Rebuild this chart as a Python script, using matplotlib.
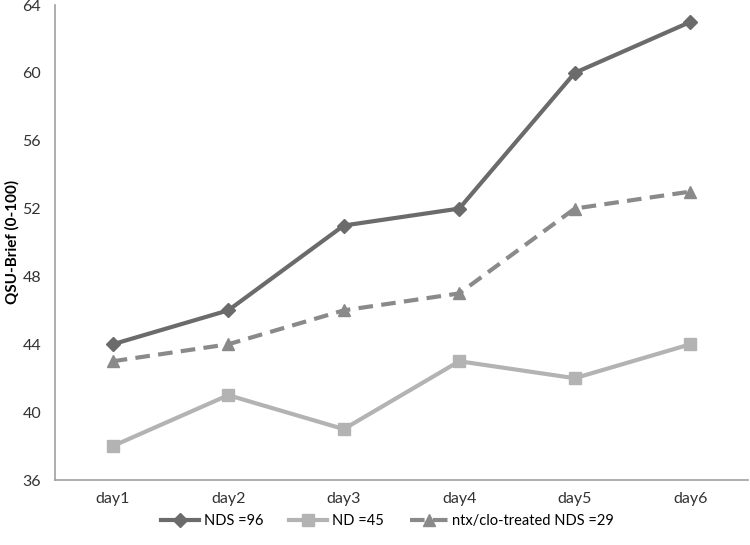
import matplotlib
matplotlib.use("Agg")
import matplotlib.pyplot as plt

days = ["day1", "day2", "day3", "day4", "day5", "day6"]
nds = [44, 46, 51, 52, 60, 63]
nd = [38, 41, 39, 43, 42, 44]
ntx = [43, 44, 46, 47, 52, 53]
yticks = [36, 40, 44, 48, 52, 56, 60, 64]

plt.rcParams['font.family'] = ['Lato', 'DejaVu Sans']

fig = plt.figure(figsize=(7.5, 5.45), dpi=100)
ax = fig.add_axes([55/750, 1 - 480/545, (748-55)/750, 475/545])

x = list(range(len(days)))
ax.plot(x, nds, c='#6b6b6b', lw=3, marker='D', ms=7, label='NDS =96')
ax.plot(x, nd, c='#b3b3b3', lw=3, marker='s', ms=8, label='ND =45')
ax.plot(x, ntx, c='#8a8a8a', lw=3, ls=(0, (3.5, 2)), marker='^', ms=9,
        label='ntx/clo-treated NDS =29')

ax.set_xlim(-0.5, len(days) - 0.5)
ax.set_ylim(36, 64)
ax.set_yticks(yticks)
ax.set_xticks(x)
ax.set_xticklabels(days)
ax.tick_params(length=0, labelsize=11.5, colors='#333333')
ax.tick_params(axis='x', pad=9)
ax.tick_params(axis='y', pad=10)
for s in ['top', 'right']:
    ax.spines[s].set_visible(False)
for s in ['left', 'bottom']:
    ax.spines[s].set_color('#a0a0a0')
    ax.spines[s].set_linewidth(1.2)

fig.text(12/750, 1 - 242/545, 'QSU-Brief (0-100)', rotation=90, ha='center',
         va='center', fontweight='bold', fontsize=11)

ax.legend(loc='center', bbox_to_anchor=((387.5 - 55) / 693, (480 - 521) / 475),
          ncol=3, frameon=False, fontsize=10.5, handlelength=2.6,
          columnspacing=1.8, handletextpad=0.3)

fig.savefig('out.png')
